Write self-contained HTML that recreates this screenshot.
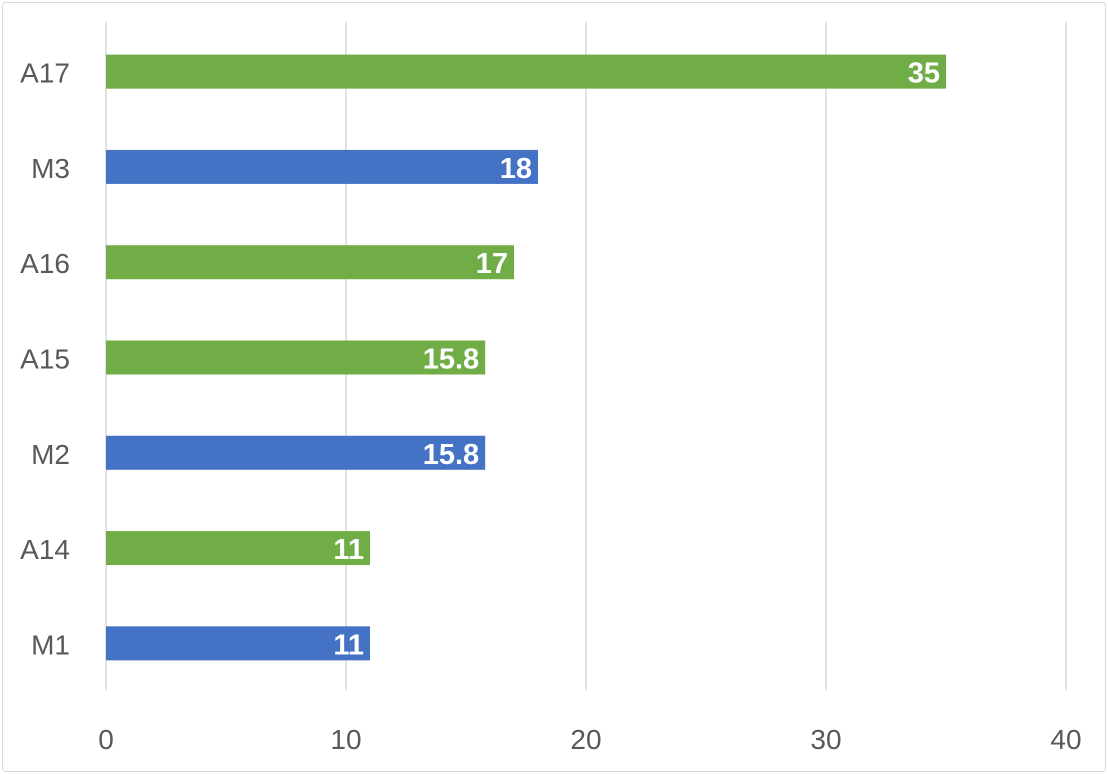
<!DOCTYPE html>
<html><head><meta charset="utf-8"><style>
html,body{margin:0;padding:0;background:#fff;}
svg{display:block;font-family:"Liberation Sans","Noto Sans CJK JP",sans-serif;}
</style></head><body>
<svg id="chart" width="1108" height="774" viewBox="0 0 1108 774">
<rect x="2.5" y="2.5" width="1103" height="769" rx="3" fill="#fff" stroke="#d9d9d9" stroke-width="1"/>
<g id="grid"></g><g id="bars"></g><g id="labels"></g>
</svg>
<script>
const categories = ["M1","A14","M2","A15","A16","M3","A17"];
const values = [11,11,15.8,15.8,17,18,35];
const valueLabels = ["11","11","15.8","15.8","17","18","35"];
const seriesType = ["M","A","M","A","A","M","A"];
const ticks = [0,10,20,30,40];
const NS="http://www.w3.org/2000/svg";
const x0=106,x1=1066,vmax=40,plotTop=24,plotBottom=691;
const xs=v=>x0+(v/vmax)*(x1-x0);
const band=(plotBottom-plotTop)/categories.length;
const yc=i=>plotBottom-band*(i+0.5);
const colors={M:"#4472c4",A:"#70ad47"};
function mk(tag,attrs,parent){const e=document.createElementNS(NS,tag);for(const k in attrs)e.setAttribute(k,attrs[k]);parent.appendChild(e);return e;}
const grid=document.getElementById("grid"),bars=document.getElementById("bars"),labels=document.getElementById("labels");
ticks.forEach(t=>{
  const l=mk("line",{x1:xs(t),x2:xs(t),y1:22,y2:690,stroke:"#d9d9d9","stroke-width":1.5},grid);
  
  
  const tx=mk("text",{x:xs(t),y:749,"text-anchor":"middle","font-size":28,fill:"#595959"},labels);
  tx.textContent=t;
  
  
});
categories.forEach((c,i)=>{
  const y=yc(i),h=34;
  const r=mk("rect",{x:xs(0),y:y-h/2,width:xs(values[i])-xs(0),height:h,fill:colors[seriesType[i]]},bars);
  
  
  const v=mk("text",{x:xs(values[i])-6,y:y+11,"text-anchor":"end","font-size":29,"font-weight":"bold",fill:"#fff"},labels);
  v.textContent=valueLabels[i];
  
  
  const cl=mk("text",{x:70,y:y+11,"text-anchor":"end","font-size":28,fill:"#595959"},labels);
  cl.textContent=c;
  
  
});
</script>
</body></html>
